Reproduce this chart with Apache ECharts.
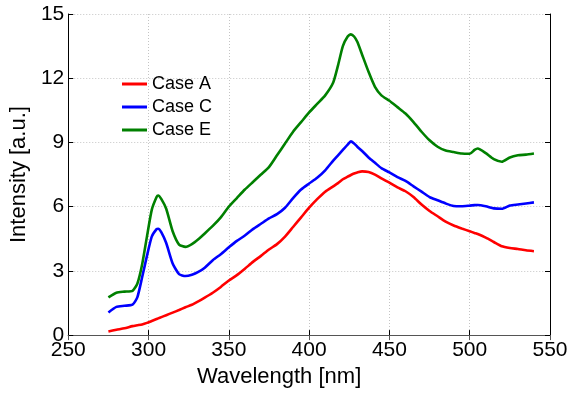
<!DOCTYPE html>
<html>
<head>
<meta charset="utf-8">
<script src="https://cdn.jsdelivr.net/npm/echarts@6/dist/echarts.min.js"></script>
<style>
  html, body { margin: 0; padding: 0; background: #fff; }
  #chart { width: 578px; height: 393px; }
</style>
</head>
<body>
<div id="chart"></div>
<script>
// Wavelength sample points (nm)
const wavelengths = [275, 280, 285, 290, 293, 296, 299, 302, 305, 306, 308, 311, 315, 319, 323, 327, 331, 335,
  340, 345, 350, 355, 360, 365, 370, 375, 380, 385, 390, 395, 400, 405, 410, 415, 418, 421, 424, 426, 428, 430,
  433, 437, 441, 445, 450, 455, 460, 465, 470, 475, 480, 485, 490, 495, 500, 503, 505, 510, 515, 520, 525, 530,
  535, 540];

// Intensity (a.u.) for each case
const caseA = [0.17, 0.25, 0.32, 0.42, 0.46, 0.50, 0.57, 0.66, 0.75, 0.78, 0.84, 0.93, 1.05, 1.17, 1.30, 1.42, 1.58, 1.75,
  1.98, 2.25, 2.55, 2.80, 3.10, 3.42, 3.70, 4.00, 4.25, 4.60, 5.05, 5.50, 5.95, 6.35, 6.70, 6.95, 7.10, 7.28, 7.40, 7.48, 7.55, 7.60,
  7.65, 7.62, 7.50, 7.32, 7.12, 6.90, 6.72, 6.45, 6.10, 5.80, 5.55, 5.30, 5.12, 4.98, 4.85, 4.77, 4.72, 4.55, 4.35, 4.15, 4.07, 4.02,
  3.96, 3.92];
const caseC = [1.06, 1.32, 1.37, 1.42, 1.76, 2.70, 3.70, 4.60, 4.95, 4.97, 4.80, 4.30, 3.35, 2.85, 2.76, 2.82, 2.95, 3.15,
  3.50, 3.78, 4.10, 4.40, 4.65, 4.95, 5.20, 5.45, 5.65, 5.95, 6.40, 6.80, 7.08, 7.35, 7.70, 8.15, 8.40, 8.65, 8.90, 9.05, 8.95, 8.80,
  8.60, 8.30, 8.05, 7.80, 7.60, 7.38, 7.20, 6.95, 6.70, 6.45, 6.30, 6.15, 6.03, 6.02, 6.05, 6.07, 6.08, 6.02, 5.92, 5.90, 6.05, 6.10,
  6.15, 6.20];
const caseE = [1.76, 1.98, 2.03, 2.07, 2.40, 3.30, 4.60, 5.85, 6.45, 6.52, 6.35, 5.90, 4.85, 4.23, 4.12, 4.25, 4.48, 4.75,
  5.10, 5.50, 6.00, 6.40, 6.80, 7.15, 7.50, 7.85, 8.40, 8.95, 9.50, 9.95, 10.40, 10.80, 11.20, 11.80, 12.60, 13.50, 13.95, 14.05, 13.95, 13.70,
  13.10, 12.30, 11.60, 11.20, 10.95, 10.65, 10.35, 9.95, 9.50, 9.10, 8.80, 8.62, 8.55, 8.48, 8.47, 8.65, 8.72, 8.50, 8.22, 8.10, 8.30, 8.40,
  8.43, 8.48];

const seriesNames = ['Case A', 'Case C', 'Case E'];
const seriesValues = [caseA, caseC, caseE];
const seriesColors = ['#ff0000', '#0000ff', '#008000'];

const FONT = 'Liberation Sans, Arial, sans-serif';

const chart = echarts.init(document.getElementById('chart'), null, { renderer: 'canvas' });

const pairs = vals => wavelengths.map((w, i) => [w, vals[i]]);

const xBase = { type: 'value', min: 250, max: 550, interval: 50 };
const yBase = { type: 'value', min: 0, max: 15, interval: 3 };

chart.setOption({
  animation: false,
  backgroundColor: '#ffffff',
  grid: { left: 67, right: 28, top: 14, bottom: 55, containLabel: false },
  legend: {
    orient: 'vertical',
    left: 117,
    top: 70,
    itemWidth: 25,
    itemHeight: 3,
    itemGap: 5,
    icon: 'rect',
    textStyle: { fontFamily: FONT, fontSize: 18, color: '#000' },
    data: seriesNames
  },
  xAxis: [
    Object.assign({}, xBase, {
      position: 'bottom',
      name: 'Wavelength [nm]',
      nameLocation: 'middle',
      nameGap: 26,
      nameTextStyle: { fontFamily: FONT, fontSize: 22, color: '#000', padding: [0, 60, 0, 0] },
      axisLine: { show: true, lineStyle: { color: '#000', width: 1 } },
      axisTick: { show: true, inside: true, length: 5, lineStyle: { color: '#000' } },
      axisLabel: { fontFamily: FONT, fontSize: 21, color: '#000', margin: 5 },
      splitLine: { show: true, lineStyle: { color: '#c4c4c4', type: [1, 2], width: 1 } }
    }),
    Object.assign({}, xBase, {
      position: 'top',
      axisLine: { show: true, lineStyle: { color: '#555', width: 1 } },
      axisTick: { show: true, inside: true, length: 5, lineStyle: { color: '#555' } },
      axisLabel: { show: false },
      splitLine: { show: false }
    })
  ],
  yAxis: [
    Object.assign({}, yBase, {
      position: 'left',
      name: 'Intensity [a.u.]',
      nameLocation: 'middle',
      nameGap: 31,
      nameTextStyle: { fontFamily: FONT, fontSize: 22, color: '#000' },
      axisLine: { show: true, lineStyle: { color: '#000', width: 1 } },
      axisTick: { show: true, inside: true, length: 5, lineStyle: { color: '#000' } },
      axisLabel: { fontFamily: FONT, fontSize: 21, color: '#000', margin: 4 },
      splitLine: { show: true, lineStyle: { color: '#c4c4c4', type: [1, 2], width: 1 } }
    }),
    Object.assign({}, yBase, {
      position: 'right',
      axisLine: { show: true, lineStyle: { color: '#000', width: 1 } },
      axisTick: { show: true, inside: true, length: 5, lineStyle: { color: '#000' } },
      axisLabel: { show: false },
      splitLine: { show: false }
    })
  ],
  series: seriesNames.map((name, i) => ({
    name: name,
    type: 'line',
    xAxisIndex: 0,
    yAxisIndex: 0,
    data: pairs(seriesValues[i]),
    showSymbol: false,
    smooth: 0.2,
    color: seriesColors[i],
    lineStyle: { color: seriesColors[i], width: 2.6 }
  }))
});
</script>
</body>
</html>
